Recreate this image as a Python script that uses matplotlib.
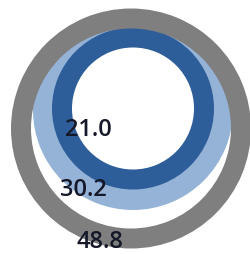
import matplotlib
matplotlib.use("Agg")
import matplotlib.pyplot as plt
from matplotlib.patches import Wedge

# ---------------- DATA ----------------
labels = ["48.8", "30.2", "21.0"]
values = [48.8, 30.2, 21.0]
colors = ["#7f7f7f", "#95b3d7", "#2e5e99"]
# --------------------------------------

# layout in pixel units (origin top-left)
ring_centers = [(131, 128.5), (133, 110), (133, 108.5)]
ring_radii = [120, 100, 81]
ring_widths = [20, 32, 20]
ring_zorder = [3, 1, 2]
label_pos = [(100, 248), (83.5, 196), (88.5, 136)]

fig = plt.figure(figsize=(2.5, 2.54), dpi=100)
ax = fig.add_axes([0, 0, 1, 1])
ax.set_xlim(0, 250)
ax.set_ylim(254, 0)
ax.axis("off")

for i, v in enumerate(values):
    ring = Wedge(ring_centers[i], ring_radii[i], 0, 360, width=ring_widths[i],
                 facecolor=colors[i], edgecolor="none", zorder=ring_zorder[i])
    ax.add_patch(ring)
    x, y = label_pos[i]
    ax.text(x, y, labels[i], ha="center", va="baseline", fontsize=17,
            family="Open Sans", fontweight="semibold", color="#141828", zorder=5)

fig.savefig("out.png", dpi=100)
